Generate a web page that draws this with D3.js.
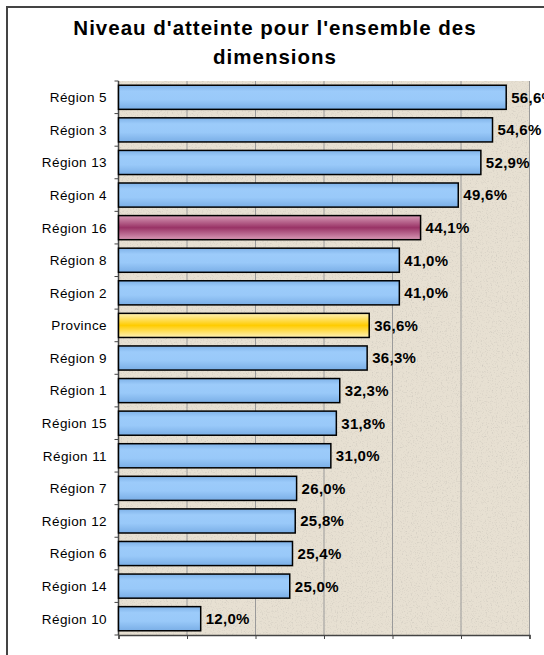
<!DOCTYPE html>
<html>
<head>
<meta charset="utf-8">
<script src="https://cdn.jsdelivr.net/npm/d3@7"></script>
<style>
html,body{margin:0;padding:0;background:#fff;}
svg{display:block;}
</style>
</head>
<body>
<script>
const categories = ["Région 5","Région 3","Région 13","Région 4","Région 16","Région 8","Région 2","Province","Région 9","Région 1","Région 15","Région 11","Région 7","Région 12","Région 6","Région 14","Région 10"];
const values = [56.6,54.6,52.9,49.6,44.1,41.0,41.0,36.6,36.3,32.3,31.8,31.0,26.0,25.8,25.4,25.0,12.0];
const highlight = {"Région 16":"purple","Province":"gold"};
const xTicks = [0,10,20,30,40,50,60];
const title = ["Niveau d'atteinte pour l'ensemble des","dimensions"];

const W = 544, H = 655;
const m = {left:118.5, right:529.5, top:81, bottom:635};
const FONT = "Liberation Sans, Arial, sans-serif";

const svg = d3.select("body").append("svg").attr("width",W).attr("height",H);
const defs = svg.append("defs");

function grad(id, stops){
  const g = defs.append("linearGradient").attr("id",id).attr("x1",0).attr("y1",0).attr("x2",0).attr("y2",1);
  stops.forEach(s=>g.append("stop").attr("offset",s[0]).attr("stop-color",s[1]));
}
grad("blue",[[0,"#7fb2e8"],[0.25,"#9ccbfa"],[0.6,"#99c9f9"],[1,"#7aaee6"]]);
grad("purple",[[0,"#d89ab6"],[0.5,"#993366"],[1,"#d89ab6"]]);
grad("gold",[[0,"#fff2b8"],[0.5,"#ffcc00"],[1,"#fff2b8"]]);

// parchment texture
const f = defs.append("filter").attr("id","paper").attr("x",0).attr("y",0).attr("width","100%").attr("height","100%");
f.append("feTurbulence").attr("type","fractalNoise").attr("baseFrequency","0.8").attr("numOctaves",2).attr("seed",3).attr("result","n");
f.append("feColorMatrix").attr("in","n").attr("type","matrix")
 .attr("values","0 0 0 0 0.55  0 0 0 0 0.52  0 0 0 0 0.47  -1.8 0 0 0 0.85").attr("result","c");
f.append("feComposite").attr("in","c").attr("in2","SourceGraphic").attr("operator","in").attr("result","cc");
f.append("feMerge").call(s=>{s.append("feMergeNode").attr("in","SourceGraphic");s.append("feMergeNode").attr("in","cc");});

// outer frame
svg.append("rect").attr("x",7).attr("y",7).attr("width",W+20).attr("height",H+20)
  .attr("fill","#fff").attr("stroke","#444").attr("stroke-width",2);

// title
svg.append("g").selectAll("text").data(title).join("text")
  .attr("x",275).attr("y",(d,i)=>35+i*28.5)
  .attr("text-anchor","middle")
  .attr("font-family",FONT)
  .attr("font-weight","bold").attr("font-size","20.5px").attr("letter-spacing","1px").attr("fill","#000")
  .text(d=>d);

const x = d3.scaleLinear().domain([0,60]).range([m.left,m.right]);
const y = d3.scaleBand().domain(categories).range([m.top,m.bottom]).paddingInner(0.26).paddingOuter(0.13);

// plot background
svg.append("rect").attr("x",m.left).attr("y",m.top).attr("width",m.right-m.left).attr("height",m.bottom-m.top)
  .attr("fill","#e7e0d2").attr("filter","url(#paper)");

// gridlines
svg.append("g").selectAll("line").data(xTicks.slice(1)).join("line")
  .attr("x1",d=>x(d)).attr("x2",d=>x(d)).attr("y1",m.top).attr("y2",m.bottom)
  .attr("stroke","#9a9a9a").attr("stroke-width",1);

// bottom axis
const xa = svg.append("g").attr("transform",`translate(0,${m.bottom})`)
  .call(d3.axisBottom(x).tickValues(xTicks).tickSize(4).tickFormat(""));
xa.select(".domain").attr("stroke","#444").attr("stroke-width",1.5);
xa.selectAll(".tick line").attr("stroke","#444");

// left axis with ticks at band boundaries
const bounds = d3.range(categories.length+1).map(i=>m.top+i*(m.bottom-m.top)/categories.length);
svg.append("line").attr("x1",m.left).attr("x2",m.left).attr("y1",m.top).attr("y2",m.bottom)
  .attr("stroke","#444").attr("stroke-width",1.5);
svg.append("g").selectAll("line").data(bounds).join("line")
  .attr("x1",m.left-4).attr("x2",m.left).attr("y1",d=>d).attr("y2",d=>d)
  .attr("stroke","#444").attr("stroke-width",1);

// category labels
svg.append("g").selectAll("text").data(categories).join("text")
  .attr("x",107).attr("y",d=>y(d)+y.bandwidth()/2)
  .attr("dy","0.36em").attr("text-anchor","end")
  .attr("font-family",FONT).attr("font-size","13.5px").attr("letter-spacing","0.4px").attr("fill","#000")
  .text(d=>d);

// bars
svg.append("g").selectAll("rect").data(categories).join("rect")
  .attr("x",x(0)).attr("y",d=>y(d))
  .attr("width",(d,i)=>x(values[i])-x(0)).attr("height",y.bandwidth())
  .attr("fill",d=>`url(#${highlight[d]||"blue"})`)
  .attr("stroke","#000").attr("stroke-width",1.5);

// value labels
svg.append("g").selectAll("text").data(categories).join("text")
  .attr("x",(d,i)=>x(values[i])+5).attr("y",d=>y(d)+y.bandwidth()/2)
  .attr("dy","0.36em")
  .attr("font-family",FONT).attr("font-weight","bold").attr("font-size","15px").attr("letter-spacing","0.3px").attr("fill","#000")
  .text((d,i)=>d3.format(".1f")(values[i]).replace(".",",")+"%");
</script>
</body>
</html>
